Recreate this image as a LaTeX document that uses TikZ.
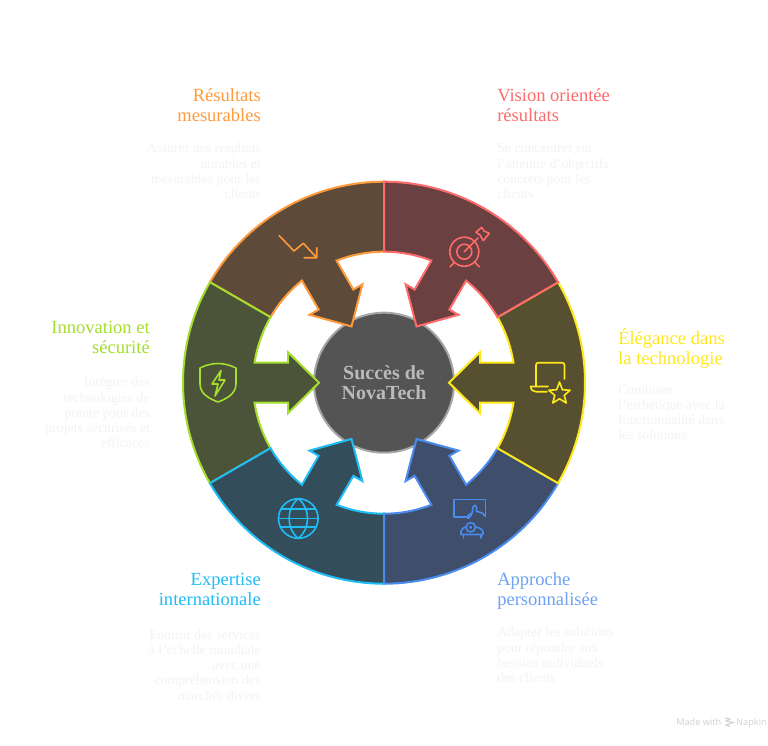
\documentclass[tikz,border=0pt]{standalone}
\usepackage{fontspec}
\setmainfont{Liberation Serif}
\newfontfamily\brandfont{Open Sans}
\definecolor{cred}{HTML}{FF6B6B}\definecolor{fred}{HTML}{6A4040}
\definecolor{cyel}{HTML}{FFE81A}\definecolor{fyel}{HTML}{565030}
\definecolor{cblu}{HTML}{4A8BF0}\definecolor{fblu}{HTML}{3F4E6B}
\definecolor{ccya}{HTML}{1FBCF5}\definecolor{fcya}{HTML}{344D5A}
\definecolor{cgre}{HTML}{A4DE2E}\definecolor{fgre}{HTML}{4B5338}
\definecolor{cora}{HTML}{FF9A3C}\definecolor{fora}{HTML}{5E4A38}
\definecolor{bodyc}{HTML}{F3F3F3}
\tikzset{
 titleblock/.style={inner sep=0pt,font=\fontsize{13.9pt}{15pt}\selectfont},
 bodyblock/.style={inner sep=0pt,text=bodyc,font=\fontsize{10.35pt}{11.4pt}\selectfont},
 tl/.style={anchor=north west,align=left},
 tr/.style={anchor=north east,align=right},
 icon/.style={line width=1.2pt,line join=round,line cap=round,fill=none},
}
\newcommand{\segm}[3]{%
 \begin{scope}[shift={(384,382.7)},rotate=#1]
 \draw[fill=#2,draw=#3,line width=1.5pt,line join=miter]
  (30:201) arc (30:-30:201) -- (-30:131) arc (-30:-8.8:131)
  -- (96,-20) -- (96,-30.5) -- (65,0) -- (96,30.5) -- (96,20)
  -- (8.8:131) arc (8.8:30:131) -- cycle;
 \end{scope}}
\begin{document}
\begin{tikzpicture}[x=.75pt,y=.75pt,yscale=-1]
\useasboundingbox (0,0) rectangle (768,746);
\fill[white] (0,0) rectangle (768,746);
\draw[fill=black!67,draw=black!35,line width=1.5pt] (384,382.7) circle (70);
\segm{240}{fora}{cora}
\segm{180}{fgre}{cgre}
\segm{120}{fcya}{ccya}
\segm{60}{fblu}{cblu}
\segm{0}{fyel}{cyel}
\segm{-60}{fred}{cred}
\node[align=center,inner sep=0pt,text=black!27,font=\bfseries\fontsize{15pt}{15pt}\selectfont] (center) at (384,383) {Succès de\\NovaTech};
% target icon
\begin{scope}[icon,draw=cred]
\draw (464.3,251.7) circle (14.5) (464.3,251.7) circle (7.5);
\draw (464.3,251.7) -- (478,238);
\draw (476,232.3) -- (481.7,227.3) -- (484,231) -- (489.3,233.3) -- (483.3,240.7) -- (480,235) -- cycle;
\draw (450,266.7) -- (454,262.7) (479.3,266.7) -- (475.3,262.7);
\end{scope}
% trend icon
\draw[icon,draw=cora] (279.3,235.7) -- (294,251) -- (303.3,243.3) -- (316.7,257.7) (316.7,247.7) -- (316.7,257.7) -- (304,257.7);
% shield icon
\begin{scope}[icon,draw=cgre]
\draw (200,368) .. controls (212,362) and (224,362) .. (236,368) -- (236,384) .. controls (236,394) and (226,399) .. (218,402) .. controls (210,399) and (200,394) .. (200,384) -- cycle;
\draw (221,370.5) -- (212,384) -- (218,384) -- (215,396) -- (225,380) -- (219,380) -- cycle;
\end{scope}
% laptop and star icon
\begin{scope}[icon,draw=cyel]
\draw (536,380) -- (536,365) .. controls (536,363.5) and (537,362.7) .. (538,362.7) -- (562,362.7) .. controls (563.5,362.7) and (564.5,363.5) .. (564.5,365) -- (564.5,379);
\draw (548,386.5) -- (530.7,386.5) .. controls (531,390) and (533,391.7) .. (536,391.7) -- (547,391.7);
\draw (536,380) -- (536,386.5);
\draw (559.5,382) -- (562.4,389.8) -- (570.2,390.2) -- (564.2,395.4) -- (566.3,403) -- (559.5,398.8) -- (552.7,403) -- (554.8,395.4) -- (548.8,390.2) -- (556.6,389.8) -- cycle;
\end{scope}
% presenter icon
\begin{scope}[icon,draw=cblu]
\draw (467,516.7) -- (454,516.7) -- (454,499.3) -- (485.5,499.3) -- (485.5,516.7);
\draw (468.5,518.5) .. controls (471,516) and (472,514) .. (472.5,511) -- (473,507) .. controls (473.5,504.7) and (476.5,504.7) .. (476.5,507) -- (476.5,511.5) -- (481,512.5) .. controls (483.5,513.3) and (484,514.5) .. (484.5,516);
\draw (468.5,518.5) .. controls (467,518.5) and (466.5,516) .. (469,514.5) -- (472,513.5);
\draw (470.7,527.3) circle (4.7) (470.7,527.3) circle (.7);
\draw (466,527) .. controls (461.5,528) and (460.5,531) .. (461,534.5) -- (483,534.5) .. controls (483.5,531) and (482,528) .. (475.5,527);
\draw (463.5,534.5) -- (463.5,538) (481,534.5) -- (481,538);
\end{scope}
% globe icon
\begin{scope}[icon,draw=ccya]
\draw (298.3,518.5) circle (19.8);
\draw (298.3,498.7) .. controls (286,508) and (286,529) .. (298.3,538.3) .. controls (310.6,529) and (310.6,508) .. (298.3,498.7);
\draw (281,509) -- (315.6,509) (278.5,518.3) -- (318.1,518.3) (281,527) -- (315.6,527);
\end{scope}
% titles
\node[titleblock,tr,text=cora] (t1) at (261,87.7) {\strut Résultats\\\strut mesurables};
\node[titleblock,tl,text=cred] (t2) at (497,87.7) {\strut Vision orientée\\\strut résultats};
\node[titleblock,tr,text=cgre] (t3) at (150,319.3) {\strut Innovation et\\\strut sécurité};
\node[titleblock,tl,text=cyel] (t4) at (618,328.7) {\strut Élégance dans\\\strut la technologie};
\node[titleblock,tr,text=ccya] (t5) at (261,571) {\strut Expertise\\\strut internationale};
\node[titleblock,tl,text=cblu!80!white] (t6) at (497,571) {\strut Approche\\\strut personnalisée};
% bodies
\node[bodyblock,tr] (b1) at (261,142) {\strut Assurer des résultats\\\strut durables et\\\strut mesurables pour les\\\strut clients};
\node[bodyblock,tl] (b2) at (497,142) {\strut Se concentrer sur\\\strut l'atteinte d'objectifs\\\strut concrets pour les\\\strut clients};
\node[bodyblock,tr] (b3) at (150,376) {\strut Intégrer des\\\strut technologies de\\\strut pointe pour des\\\strut projets sécurisés et\\\strut efficaces};
\node[bodyblock,tl] (b4) at (618,383.3) {\strut Combiner\\\strut l'esthétique avec la\\\strut fonctionnalité dans\\\strut les solutions};
\node[bodyblock,tr] (b5) at (261,628.3) {\strut Fournir des services\\\strut à l'échelle mondiale\\\strut avec une\\\strut compréhension des\\\strut marchés divers};
\node[bodyblock,tl] (b6) at (497,626) {\strut Adapter les solutions\\\strut pour répondre aux\\\strut besoins individuels\\\strut des clients};
% brand
\node[inner sep=0pt,anchor=base west,text=black!18,font=\brandfont\fontsize{6.9pt}{9pt}\selectfont] (m1) at (676,725.5) {Made with};
\node[inner sep=0pt,anchor=base east,text=black!18,font=\brandfont\fontsize{6.9pt}{9pt}\selectfont] (m2) at (767,725.5) {Napkin};
\draw[black!18,line width=.8pt] (725,718) -- (730,719) -- (726,721) -- (733,722.5) -- (726,725) -- (730,726.5);
\end{tikzpicture}
\end{document}
